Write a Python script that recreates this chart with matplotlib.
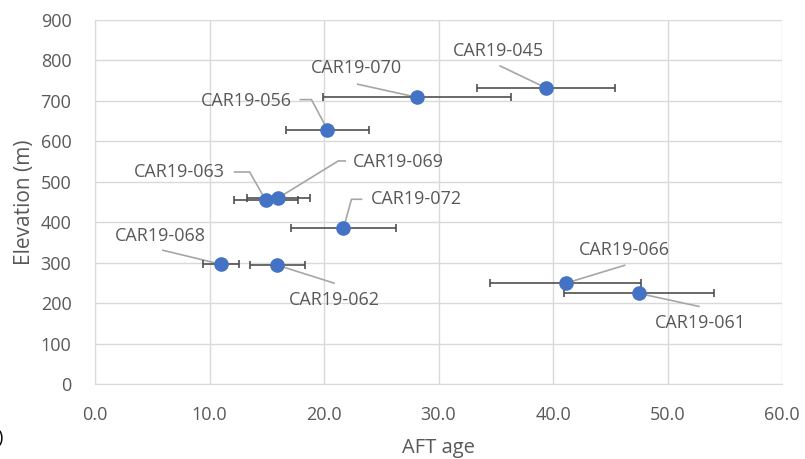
import matplotlib.pyplot as plt
import numpy as np

plt.rcParams["font.family"] = ["Open Sans", "DejaVu Sans"]

# sample data
samples = ["CAR19-045", "CAR19-070", "CAR19-056", "CAR19-063", "CAR19-069",
           "CAR19-072", "CAR19-068", "CAR19-062", "CAR19-066", "CAR19-061"]
aft_age = [39.4, 28.1, 20.3, 14.9, 16.0, 21.7, 11.0, 15.9, 41.1, 47.5]
age_err = [6.0, 8.2, 3.6, 2.8, 2.75, 4.6, 1.55, 2.4, 6.6, 6.55]
elevation = [732, 709, 629, 455, 460, 385, 296, 294, 249, 224]

x_ticks = [0, 10, 20, 30, 40, 50, 60]
y_ticks = [0, 100, 200, 300, 400, 500, 600, 700, 800, 900]

# label layout: text centre offset and leader line vertices, in pixels from the point
label_layout = {
    "CAR19-045": ((-48, 37), [(-46, 22)]),
    "CAR19-070": ((-60, 29), [(-59, 13)]),
    "CAR19-056": ((-81, 29), [(-27, 30), (-16, 30)]),
    "CAR19-063": ((-86, 28), [(-31, 28), (-16, 28)]),
    "CAR19-069": ((120, 36), [(67, 37), (60, 37)]),
    "CAR19-072": ((73, 29), [(18, 29), (8, 29)]),
    "CAR19-068": ((-61, 28), [(-58, 14)]),
    "CAR19-062": ((57, -35), [(57, -18)]),
    "CAR19-066": ((59, 33), [(59, 18)]),
    "CAR19-061": ((61, -30), [(60, -13)]),
}

text_grey = "#595959"
grid_grey = "#d9d9d9"
leader_grey = "#a6a6a6"
blue = "#4472c4"

fig = plt.figure(figsize=(8.05, 4.59), dpi=100)
ax = fig.add_axes([95 / 805, 1 - 384 / 459, 687 / 805, 364 / 459])

ax.errorbar(aft_age, elevation, xerr=age_err, fmt="none", ecolor="#505050",
            elinewidth=1.2, capsize=3, capthick=1.2, zorder=3)
ax.plot(aft_age, elevation, "o", color=blue, markersize=9.5, zorder=4)

ax.set_xlim(0, 60)
ax.set_ylim(0, 900)
ax.set_xticks(x_ticks)
ax.set_xticklabels([f"{t:.1f}" for t in x_ticks])
ax.set_yticks(y_ticks)
ax.grid(True, color=grid_grey, linewidth=1.0)
ax.set_axisbelow(True)
for side in ["top", "right"]:
    ax.spines[side].set_visible(False)
for side in ["left", "bottom"]:
    ax.spines[side].set_color(grid_grey)
ax.tick_params(length=0, labelsize=13, labelcolor=text_grey)
ax.tick_params(axis="x", pad=16)
ax.tick_params(axis="y", pad=17)

ax.set_xlabel("AFT age", fontsize=14.5, color=text_grey, labelpad=10)
ax.set_ylabel("Elevation (m)", fontsize=15, color=text_grey, labelpad=4)

# data labels with leader lines
to_px = ax.transData.transform
to_data = ax.transData.inverted().transform
for name, x, y in zip(samples, aft_age, elevation):
    (tdx, tdy), verts = label_layout[name]
    p = to_px((x, y))
    path = np.array([p + np.array(v) for v in verts] + [p])
    path = to_data(path)
    ax.plot(path[:, 0], path[:, 1], color=leader_grey, linewidth=1.2, zorder=2.5)
    ax.annotate(name, xy=(x, y), xytext=(tdx, tdy), textcoords="offset pixels",
                ha="center", va="center", fontsize=13, color=text_grey)

# panel letter, cut off at the left edge as in the source figure
fig.text(4 / 805, 1 - 438 / 459, "b)", ha="right", va="center", fontsize=13,
         color="black")

fig.savefig("out.png", dpi=100)
